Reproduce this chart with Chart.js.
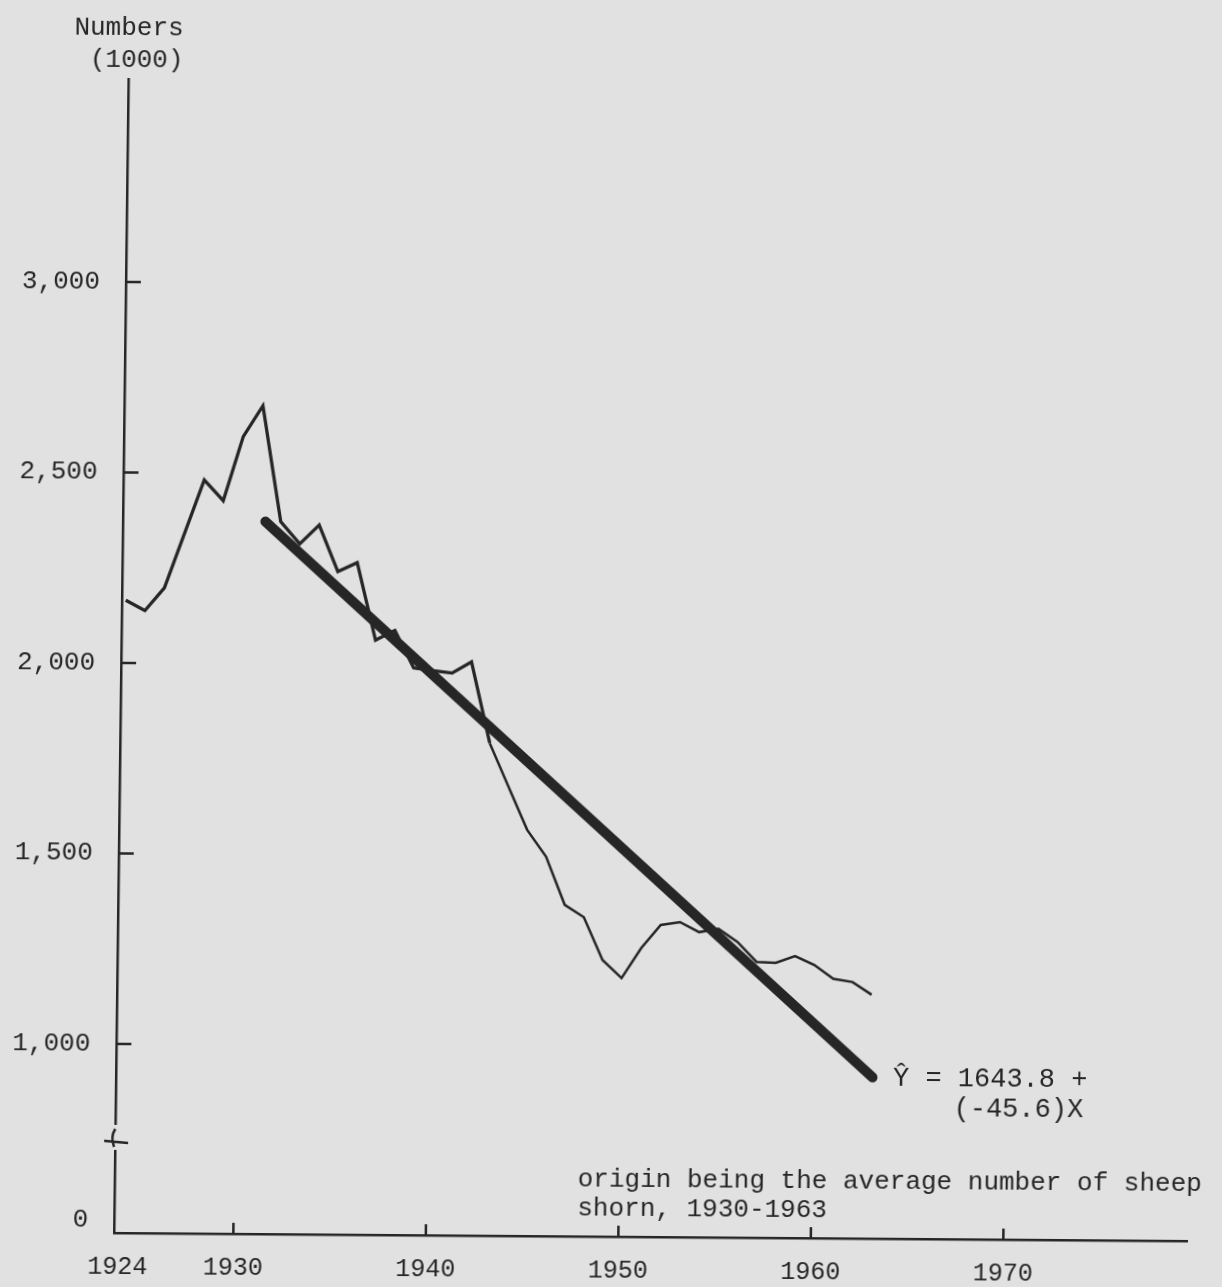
<!DOCTYPE html>
<html>
<head>
<meta charset="utf-8">
<script src="https://cdn.jsdelivr.net/npm/chart.js@4.4.1/dist/chart.umd.min.js"></script>
<style>
  html, body { margin: 0; padding: 0; background: #e1e1e1; overflow: hidden; }
  #sheep {
    display: block;
    background: #e1e1e1;
    /* the scanned page sits a little askew */
    transform-origin: 114px 1233px;
    transform: matrix(1, 0.0075, -0.0125, 1, 0, 0);
  }
</style>
</head>
<body>
<canvas id="sheep" width="1222" height="1287"></canvas>
<script>
const years = [1924, 1925, 1926, 1927, 1928, 1929, 1930, 1931, 1932, 1933,
  1934, 1935, 1936, 1937, 1938, 1939, 1940, 1941, 1942, 1943,
  1944, 1945, 1946, 1947, 1948, 1949, 1950, 1951, 1952, 1953,
  1954, 1955, 1956, 1957, 1958, 1959, 1960, 1961, 1962, 1963];
const sheepShorn = [2165, 2138, 2198, 2340, 2482, 2428, 2597, 2678, 2374, 2316,
  2366, 2244, 2268, 2065, 2091, 1993, 1986, 1980, 2010, 1797,
  1683, 1570, 1500, 1374, 1342, 1230, 1183, 1262, 1323, 1331,
  1305, 1314, 1280, 1228, 1226, 1244, 1221, 1185, 1177, 1144];
const trendYears = [1931.2, 1963.1];
const trendValues = [2374, 927];
const xTickYears = [1924, 1930, 1940, 1950, 1960, 1970];
const yTickValues = [1000, 1500, 2000, 2500, 3000];
const yAxisTitle = ['Numbers', '(1000)'];
const equationLines = ['Ŷ = 1643.8 +', '(-45.6)X'];
const noteLines = ['origin being the average number of sheep', 'shorn, 1930-1963'];

const INK = '#262626';
const PAPER = '#e1e1e1';
const FONT = "'Liberation Mono', 'DejaVu Sans Mono', monospace";

Chart.defaults.font.family = FONT;
Chart.defaults.color = INK;

// tick marks point into the plot, the y axis is broken near its foot, and the typed notes
const overlay = {
  id: 'overlay',
  afterDraw(chart) {
    const {ctx, chartArea: a, scales: {x, y}} = chart;
    ctx.save();
    ctx.strokeStyle = INK;
    ctx.lineWidth = 2.5;
    ctx.beginPath();
    yTickValues.forEach(v => {
      const py = y.getPixelForValue(v);
      ctx.moveTo(a.left, py);
      ctx.lineTo(a.left + 15, py);
    });
    xTickYears.slice(1).forEach(v => {
      const px = x.getPixelForValue(v);
      ctx.moveTo(px, a.bottom);
      ctx.lineTo(px, a.bottom - 11);
    });
    ctx.stroke();

    ctx.fillStyle = PAPER;
    ctx.fillRect(a.left - 4, a.bottom - 108, 8, 25);
    ctx.beginPath();
    ctx.moveTo(a.left, a.bottom - 104);
    ctx.quadraticCurveTo(a.left - 5, a.bottom - 96, a.left - 1, a.bottom - 86);
    ctx.moveTo(a.left - 11, a.bottom - 92);
    ctx.lineTo(a.left + 13, a.bottom - 90);
    ctx.stroke();

    ctx.fillStyle = INK;
    ctx.font = '26px ' + FONT;
    ctx.textBaseline = 'middle';
    ctx.textAlign = 'center';
    ctx.fillText(yAxisTitle[0], 114, 28);
    ctx.fillText(yAxisTitle[1], 122, 60);
    ctx.textAlign = 'right';
    ctx.fillText('0', 88, 1220);
    ctx.textAlign = 'left';
    ctx.font = '27px ' + FONT;
    ctx.fillText(equationLines[0], 891, 1073);
    ctx.fillText(equationLines[1], 952, 1103);
    ctx.font = '26px ' + FONT;
    ctx.fillText(noteLines[0], 577, 1176);
    ctx.fillText(noteLines[1], 577, 1205);
    ctx.restore();
  }
};

new Chart(document.getElementById('sheep'), {
  type: 'line',
  data: {
    datasets: [{
      label: 'Trend',
      data: trendYears.map((yr, i) => ({x: yr, y: trendValues[i]})),
      borderColor: INK,
      borderWidth: 10,
      borderCapStyle: 'round',
      pointRadius: 0,
      order: 0
    }, {
      label: 'Sheep shorn',
      data: years.map((yr, i) => ({x: yr, y: sheepShorn[i]})),
      borderColor: INK,
      borderWidth: 3,
      borderJoinStyle: 'miter',
      segment: {
        borderWidth: c => c.p0DataIndex < 19 ? 3.3 : 2.5
      },
      pointRadius: 0,
      tension: 0,
      order: 1
    }]
  },
  options: {
    responsive: false,
    animation: false,
    devicePixelRatio: 1,
    layout: {padding: {top: 79, right: 35, left: 0, bottom: 0}},
    plugins: {legend: {display: false}, tooltip: {enabled: false}},
    scales: {
      x: {
        type: 'linear',
        min: 1923.8,
        max: 1979.54,
        afterBuildTicks: s => { s.ticks = xTickYears.map(v => ({value: v})); },
        afterFit: s => { s.height = 54; },
        ticks: {
          callback: v => String(v),
          font: {size: 25},
          padding: 19,
          maxRotation: 0,
          autoSkip: false
        },
        grid: {display: false, drawTicks: false},
        border: {color: INK, width: 2.5}
      },
      y: {
        min: 504,
        max: 3533,
        afterBuildTicks: s => { s.ticks = yTickValues.map(v => ({value: v})); },
        afterFit: s => { s.width = 114; },
        ticks: {
          callback: v => v.toLocaleString('en-US'),
          font: {size: 26},
          padding: 26
        },
        grid: {display: false, drawTicks: false},
        border: {color: INK, width: 2.5}
      }
    }
  },
  plugins: [overlay]
});
</script>
</body>
</html>
